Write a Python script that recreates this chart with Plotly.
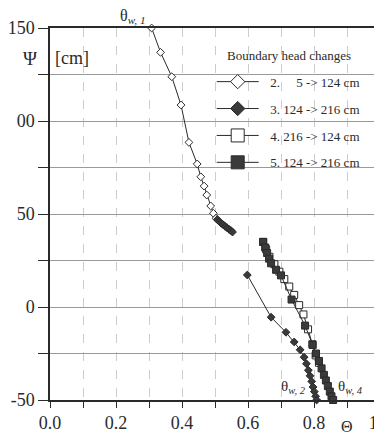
import plotly.graph_objects as go

# ---- data ----
s2_theta = [0.308, 0.335, 0.369, 0.397, 0.421, 0.446, 0.457, 0.467, 0.475, 0.487, 0.495, 0.503]
s2_psi   = [150.0, 136.9, 123.8, 108.6, 88.5, 76.9, 70.0, 65.0, 60.2, 54.3, 50.4, 47.7]

s3_theta = [0.507, 0.513, 0.519, 0.525, 0.531, 0.537, 0.543, 0.549, 0.553, None,
            0.598, 0.670, 0.715, 0.740, 0.758, 0.770, 0.777, 0.783, 0.788, 0.793,
            0.797, 0.801, 0.805, 0.808]
s3_psi   = [47.0, 46.0, 45.0, 44.2, 43.3, 42.5, 41.7, 41.0, 40.3, None,
            17.2, -5.5, -13.6, -18.8, -23.0, -27.0, -30.5, -34.0, -37.0, -40.0,
            -43.0, -45.5, -48.0, -50.0]

s4_theta = [0.646, 0.655, 0.665, 0.680, 0.695, 0.710, 0.725, 0.740, 0.755, 0.768,
            0.782, 0.795, 0.805, 0.815]
s4_psi   = [35.0, 31.0, 27.0, 23.0, 19.0, 15.0, 11.0, 6.5, 1.0, -4.0,
            -12.0, -20.0, -26.0, -30.0]

s5_theta = [0.646, 0.652, 0.658, 0.664, 0.670, 0.685, 0.700, 0.732, 0.773, 0.796,
            0.806, 0.815, 0.823, 0.830, 0.836, 0.842, 0.848, 0.853, 0.858]
s5_psi   = [35.0, 32.0, 29.0, 26.0, 23.5, 20.0, 17.0, 4.0, -10.0, -20.4,
            -25.0, -29.0, -33.0, -36.5, -39.5, -42.5, -45.5, -48.0, -50.0]

legend_names = ["\u00a0\u00a02.\u00a0\u00a0\u00a0\u00a0\u00a05 -> 124 cm",
                "\u00a0\u00a03. 124 -> 216 cm",
                "\u00a0\u00a04. 216 -> 124 cm",
                "\u00a0\u00a05. 124 -> 216 cm"]

y_ticks = [-50, -25, 0, 25, 50, 75, 100, 125, 150]
y_ticktext = ["-50", "", "0", "", "50", "", "00", "", "150"]
x_ticks = [0.0, 0.1, 0.2, 0.3, 0.4, 0.5, 0.6, 0.7, 0.8, 0.9, 1.0]
x_ticktext = ["0.0", "", "0.2", "", "0.4", "", "0.6", "", "0.8", "", "1.0"]

INK = "#2a2a2a"
FILL = "#3a3a3a"
FONT = "Liberation Serif"

fig = go.Figure()

series = [
    (s2_theta, s2_psi, "white", 6, "diamond", 11),
    (s3_theta, s3_psi, FILL, 6, "diamond", 11),
    (s4_theta, s4_psi, "white", 7, "square", 13),
    (s5_theta, s5_psi, FILL, 7, "square", 13),
]
for xs, ys, fc, ms, sym, lms in series:
    fig.add_trace(go.Scatter(
        x=xs, y=ys, mode="lines+markers", showlegend=False,
        line=dict(color=INK, width=1),
        marker=dict(symbol=sym, size=ms, color=fc, line=dict(color=INK, width=1)),
        connectgaps=False, cliponaxis=False,
    ))
for i, (xs, ys, fc, ms, sym, lms) in enumerate(series):
    fig.add_trace(go.Scatter(
        x=[None], y=[None], mode="lines+markers", name=legend_names[i],
        legendgroup=f"g{i}",
        line=dict(color=INK, width=1),
        marker=dict(symbol=sym, size=lms, color=fc, line=dict(color=INK, width=1)),
    ))

def ann(x, y, text, size, xanchor="center"):
    fig.add_annotation(x=x, y=y, xref="paper", yref="paper", text=text,
                       showarrow=False, xanchor=xanchor, yanchor="middle",
                       font=dict(family=FONT, size=size, color=INK))

ann(-0.06, 0.919, "Ψ", 19)
ann(0.009, 0.919, "[cm]", 18, "left")
ann(0.205, 1.03, "θ<sub><i>w, 1</i></sub>", 16, "left")
ann(0.693, 0.035, "θ<sub><i>w, 2</i></sub>", 15, "left")
ann(0.866, 0.035, "θ<sub><i>w, 4</i></sub>", 15, "left")
ann(0.90, -0.072, "Θ", 16)
ann(0.724, 0.925, "Boundary head changes", 13)

fig.update_layout(
    width=374, height=426,
    margin=dict(l=42, r=2, t=20, b=34, autoexpand=False),
    paper_bgcolor="white", plot_bgcolor="white",
    font=dict(family=FONT, size=18, color=INK),
    legend=dict(x=0.49, y=0.896, xanchor="left", yanchor="top",
                bgcolor="rgba(0,0,0,0)", borderwidth=0,
                font=dict(family=FONT, size=13, color=INK),
                tracegroupgap=7, itemwidth=42),
    xaxis=dict(range=[0, 1.0], tickvals=x_ticks, ticktext=x_ticktext,
               showgrid=True, gridcolor="#cccccc", griddash="dash", gridwidth=1,
               showline=True, linecolor=INK, linewidth=1.5, mirror=True,
               ticks="outside", ticklen=6, tickcolor=INK, zeroline=False,
               automargin=False, ticklabeloverflow="allow",
               tickfont=dict(family=FONT, size=18, color=INK)),
    yaxis=dict(range=[-50, 150], tickvals=y_ticks, ticktext=y_ticktext,
               showgrid=True, gridcolor="#9a9a9a", gridwidth=1,
               showline=True, linecolor=INK, linewidth=1.5, mirror=False,
               ticks="outside", ticklen=10, tickcolor=INK, zeroline=False,
               automargin=False, ticklabeloverflow="allow",
               tickfont=dict(family=FONT, size=18, color=INK)),
)

fig.write_html("out.html")
